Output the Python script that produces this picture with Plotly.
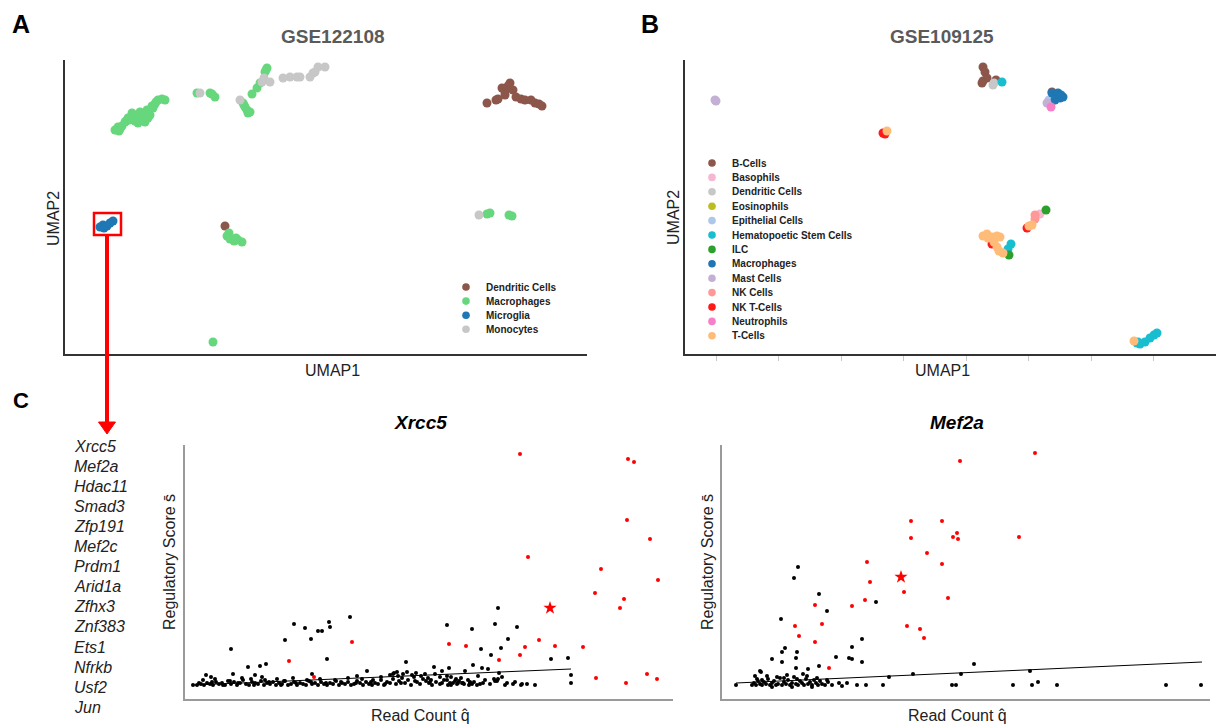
import plotly.graph_objects as go

W, H = 1216, 725
def fx(x): return x / W
def fy(y): return 1 - y / H

FONT = "Liberation Sans, Arial, sans-serif"

# ---------------- Panel A data (GSE122108), UMAP in arbitrary units ----------------
a_types = ["Dendritic Cells", "Macrophages", "Microglia", "Monocytes"]
a_colors = ["#8c564b", "#66d77d", "#1f77b4", "#c7c7c7"]
a_points = {
    "Macrophages": [(50,224),(53,227),(55,225),(57,228),(60,232),(61,233),(63,236),(66,237),(67,241),(69,235),
                    (72,239),(73,231),(75,242),(77,238),(78,234),(80,232),(82,244),(83,236),(85,239),(87,248),
                    (88,246),(90,250),(93,254),(97,255),(100,254),(70,233),(64,234),(54,223),(81,237),(91,252),
                    (132,261),(145,261),(150,257),(147,260),
                    (178,251),(180,247),(182,244),(185,242),(183,241),(179,249),
                    (187,260),(192,266),(195,271),(200,282),(202,286),(201,284),
                    (162,118),(164,121),(165,115),(169,113),(173,114),(177,112),(171,116),
                    (422,140),(425,141),(444,139),(447,138),
                    (148,12)],
    "Monocytes": [(135,261),(175,254),(197,272),(199,276),(205,272),(218,276),(225,277),(232,277),(235,277),
                  (245,277),(248,281),(250,282),(253,287),(260,287),(414,139)],
    "Dendritic Cells": [(422,251),(431,254),(437,266),(440,262),(443,268),(445,271),(448,264),(440,259),(451,257),
                        (456,255),(460,254),(466,254),(470,251),(474,250),(477,248),(433,255),(160,128)],
    "Microglia": [(35,127),(38,129),(39,126),(42,128),(45,131),(48,133)],
}

# ---------------- Panel B data (GSE109125) ----------------
b_types = ["B-Cells", "Basophils", "Dendritic Cells", "Eosinophils", "Epithelial Cells",
           "Hematopoetic Stem Cells", "ILC", "Macrophages", "Mast Cells", "NK Cells",
           "NK T-Cells", "Neutrophils", "T-Cells"]
b_colors = ["#8c564b", "#f7b6d2", "#c7c7c7", "#bcbd22", "#aec7e8", "#17becf", "#2ca02c",
            "#1f77b4", "#c5b0d5", "#ff9896", "#ff1a1a", "#f77fc8", "#ffbb78"]
b_points = {
    "B-Cells": [(298,287),(300,282),(298,273),(302,276),(311,274),(297,271),(367,262)],
    "Dendritic Cells": [(308,269),(309,271)],
    "Hematopoetic Stem Cells": [(317,272),(326,110),(323,105),(452,11),(455,10),(460,12),(465,16),(469,19),(472,21),(453,12)],
    "Macrophages": [(367,261),(371,257),(375,256),(378,257),(373,261),(370,254),(376,259)],
    "Epithelial Cells": [(364,254)],
    "Mast Cells": [(362,251),(30,254),(31,253)],
    "Eosinophils": [(366,251)],
    "Neutrophils": [(366,247)],
    "NK T-Cells": [(198,221),(200,220),(342,126),(307,110)],
    "T-Cells": [(202,223),(347,129),(344,128),(298,118),(302,120),(307,117),(312,118),(315,117),(309,112),
                (312,107),(314,103),(318,101),(303,116),(449,13)],
    "ILC": [(361,144),(324,99)],
    "Basophils": [(355,140)],
    "NK Cells": [(350,139),(350,135)],
}
b_tick0, b_dtick = 31, 62.5

# ---------------- Panel C data ----------------
genes = ["Xrcc5", "Mef2a", "Hdac11", "Smad3", "Zfp191", "Mef2c", "Prdm1", "Arid1a",
         "Zfhx3", "Znf383", "Ets1", "Nfrkb", "Usf2", "Jun"]

# Xrcc5: (read count q, regulatory score s), arbitrary units
xrcc5_black = [(21,24),(26,22),(46,50),(48,25),(63,32),(70,24),(75,33),(77,22),(81,35),(100,59),(109,75),(120,71),
               (126,60),(133,68),(137,68),(144,77),(145,72),(142,40),(165,82),(127,25),(182,28),(221,37),(212,27),
               (208,25),(172,23),(249,32),(257,28),(264,31),(280,28),(288,34),(297,31),(303,30),(250,25),(262,23),
               (266,22),(271,20),(293,23),(314,26),(309,20),(317,22),(313,20),(265,16),(272,15),(277,16),(284,14),
               (287,15),(337,15),(386,24),(386,16),(262,74),(287,70),(310,75),(313,91),(332,72),(323,60),(296,50),
               (316,51),(306,44),(366,40),(383,41),(273,16),(285,16)]
xrcc5_band = [(8,14),(12,14),(16,15),(19,14),(22,16),(25,15),(28,14),(31,17),(34,15),(37,16),(40,14),(43,18),
              (46,15),(49,17),(52,14),(55,16),(58,19),(61,15),(64,14),(67,17),(70,16),(73,15),(76,18),(79,14),
              (82,16),(85,15),(88,17),(91,14),(94,16),(97,15),(100,18),(103,14),(106,15),(109,17),(112,14),
              (115,16),(118,15),(121,14),(124,18),(127,15),(130,16),(133,14),(136,17),(139,15),(142,14),(145,16),
              (148,15),(151,18),(154,14),(157,16),(160,15),(163,17),(166,14),(169,15),(172,18),(175,16),(178,14),
              (181,17),(184,15),(187,14),(190,16),(193,15),(196,19),(199,14),(202,17),(205,16),(208,20),(211,15),
              (214,18),(217,21),(220,16),(223,19),(226,14),(229,22),(232,17),(235,15),(238,20),(241,18),(244,16),
              (247,14),(251,17),(255,15),(259,19),(263,14),(268,16),(274,18),(279,15),(285,17),(292,14),(298,16),
              (305,15),(312,18),(320,14),(328,15),(336,14),
              (18,19),(30,20),(45,18),(57,21),(66,20),(80,19),(92,20),(99,18),(108,21),(122,19),(135,20),(150,19),
              (163,21),(177,20),(188,19),(196,22),(205,24),(209,26),(213,23),(218,25),(222,27),(227,24),(231,26),
              (236,23),(240,25),(243,21),(246,19),(255,22),(262,19),(270,18),(276,21),(283,19),(289,17),(300,19),
              (310,18),(322,16),(330,17),(342,15),(350,14),
              (14,16),(27,17),(38,14),(53,16),(69,14),(84,17),(96,14),(111,16),(126,17),(141,16),(156,17),
              (171,16),(186,17),(200,15),(216,16),(230,18),(245,17),(257,16),(266,14),(278,16),(295,15)]
xrcc5_red = [(335,245),(443,240),(449,237),(442,179),(465,160),(343,142),(416,130),(473,119),(410,106),(439,100),
             (435,91),(354,59),(340,52),(370,53),(398,52),(335,44),(314,39),(411,21),(441,16),(462,25),(472,20),
             (264,55),(281,53),(104,38),(167,57),(129,22)]
xrcc5_star = [(365,91)]
xrcc5_fit_q = [9, 386]
xrcc5_fit_s = [14, 30]

mef2a_black = [(76,132),(72,121),(97,105),(154,97),(105,88),(59,80),(63,51),(75,47),(60,47),(50,40),(60,37),(74,41),
               (74,31),(86,30),(97,33),(114,42),(127,41),(130,40),(130,52),(140,60),(140,37),(167,22),(191,25),
               (117,16),(135,14),(144,14),(161,14),(230,14),(234,14),(14,14),(38,28),(33,23),(252,35),(239,25),
               (308,28),(316,17),(291,14),(310,14),(335,14),(444,14),(479,14),(39,27)]
mef2a_band = [(30,14),(32,16),(34,14),(36,18),(38,15),(40,14),(42,17),(44,15),(46,20),(48,14),(50,16),(52,18),
              (54,14),(56,15),(58,21),(60,14),(62,17),(64,15),(66,19),(68,14),(70,16),(72,22),(74,15),(76,14),
              (78,18),(80,16),(82,14),(84,20),(86,15),(88,17),(90,14),(92,19),(94,16),(96,14),(98,18),(100,15),
              (103,14),(106,17),(110,14),(35,20),(45,23),(55,22),(65,24),(75,20),(85,23),(95,21),(105,19),(50,12),
              (70,12),(90,12),(120,13),(125,16),(40,19),(62,21),(81,25)]
mef2a_red = [(238,238),(313,246),(189,178),(220,178),(189,161),(231,162),(235,166),(236,160),(297,162),(205,146),
             (145,137),(220,135),(148,117),(182,107),(143,99),(130,93),(93,94),(226,101),(73,73),(100,75),(77,63),
             (93,57),(185,73),(198,70),(202,61),(107,31)]
mef2a_star = [(179,122)]
mef2a_fit_q = [14, 480]
mef2a_fit_s = [16, 37]

# ---------------- Figure ----------------
fig = go.Figure()

def xs(p): return [a for a, b in p]
def ys(p): return [b for a, b in p]

for t, c in zip(a_types, a_colors):
    p = a_points[t]
    fig.add_trace(go.Scatter(x=xs(p), y=ys(p), mode="markers", name=t, showlegend=False,
                             marker=dict(size=9, color=c, line=dict(width=0)), xaxis="x", yaxis="y"))
for t, c in zip(b_types, b_colors):
    p = b_points.get(t, [])
    fig.add_trace(go.Scatter(x=xs(p), y=ys(p), mode="markers", name=t, showlegend=False,
                             marker=dict(size=9, color=c, line=dict(width=0)), xaxis="x2", yaxis="y2"))

for ax, black, band, red, star, fq, fs in [
        ("3", xrcc5_black, xrcc5_band, xrcc5_red, xrcc5_star, xrcc5_fit_q, xrcc5_fit_s),
        ("4", mef2a_black, mef2a_band, mef2a_red, mef2a_star, mef2a_fit_q, mef2a_fit_s)]:
    pts = black + band
    fig.add_trace(go.Scatter(x=xs(pts), y=ys(pts), mode="markers", showlegend=False,
                             marker=dict(size=4, color="black", line=dict(width=0)),
                             xaxis="x" + ax, yaxis="y" + ax))
    fig.add_trace(go.Scatter(x=fq, y=fs, mode="lines", showlegend=False,
                             line=dict(color="black", width=1), xaxis="x" + ax, yaxis="y" + ax))
    fig.add_trace(go.Scatter(x=xs(red), y=ys(red), mode="markers", showlegend=False,
                             marker=dict(size=4, color="#ff0000", line=dict(width=0)),
                             xaxis="x" + ax, yaxis="y" + ax))
    fig.add_trace(go.Scatter(x=xs(star), y=ys(star), mode="markers", showlegend=False,
                             marker=dict(size=10, color="#ff0000", symbol="star", line=dict(width=0)),
                             xaxis="x" + ax, yaxis="y" + ax))

ax_common = dict(showgrid=False, zeroline=False, showticklabels=False, showline=True, ticks="")
umap_axis = dict(ax_common, linecolor="#333333", linewidth=2)
c_axis = dict(ax_common, linecolor="#9a9a9a", linewidth=1.5)

fig.update_layout(
    width=W, height=H, margin=dict(l=0, r=0, t=0, b=0),
    paper_bgcolor="white", plot_bgcolor="white",
    font=dict(family=FONT, color="#222"),
    xaxis=dict(umap_axis, domain=[fx(65), fx(587)], range=[0, 522], anchor="y"),
    yaxis=dict(umap_axis, domain=[fy(354), fy(60)], range=[0, 294], anchor="x"),
    xaxis2=dict(umap_axis, domain=[fx(685), 1.0], range=[0, 531], anchor="y2",
                ticks="outside", ticklen=5, tickwidth=1, tickcolor="#c8c8c8",
                tickmode="linear", tick0=b_tick0, dtick=b_dtick),
    yaxis2=dict(umap_axis, domain=[fy(354), fy(60)], range=[0, 294], anchor="x2"),
    xaxis3=dict(c_axis, domain=[fx(185), fx(673)], range=[0, 488], anchor="y3"),
    yaxis3=dict(c_axis, domain=[fy(699), fy(445)], range=[0, 254], anchor="x3"),
    xaxis4=dict(c_axis, domain=[fx(722), fx(1210)], range=[0, 488], anchor="y4"),
    yaxis4=dict(c_axis, domain=[fy(699), fy(445)], range=[0, 254], anchor="x4"),
)

ann = []
def text(x, y, s, size, bold=False, italic=False, color="#222", xanchor="center", angle=0):
    if bold:
        s = "<b>" + s + "</b>"
    if italic:
        s = "<i>" + s + "</i>"
    ann.append(dict(x=fx(x), y=fy(y), xref="paper", yref="paper", text=s, showarrow=False,
                    xanchor=xanchor, yanchor="middle", textangle=angle,
                    font=dict(size=size, color=color, family=FONT)))

# Panel letters
text(21, 24, "A", 25, bold=True, color="black")
text(650, 24, "B", 25, bold=True, color="black")
text(21, 400, "C", 22, bold=True, color="black")
# Panel titles
text(333, 36, "GSE122108", 19, bold=True, color="#5a5a5a")
text(942, 36, "GSE109125", 19, bold=True, color="#5a5a5a")
# UMAP axis titles
text(53, 218, "UMAP2", 16, angle=-90)
text(332, 370, "UMAP1", 16)
text(673, 218, "UMAP2", 16, angle=-90)
text(942, 370, "UMAP1", 16)

shapes = []
def circle(cx, cy, r, color):
    shapes.append(dict(type="circle", xref="paper", yref="paper",
                       x0=fx(cx - r), x1=fx(cx + r), y0=fy(cy + r), y1=fy(cy - r),
                       fillcolor=color, line=dict(width=0)))

# Legend A
for i, (t, c) in enumerate(zip(a_types, a_colors)):
    yy = 287 + i * 14.1
    circle(466, yy, 3.8, c)
    text(484, yy, t, 10, bold=True, xanchor="left")
# Legend B
for i, (t, c) in enumerate(zip(b_types, b_colors)):
    yy = 163 + i * 14.4
    circle(712, yy, 3.8, c)
    text(730, yy, t, 10, bold=True, xanchor="left")

# Gene list
for i, g in enumerate(genes):
    text(72, 446 + i * 20.1, g, 16, italic=True, xanchor="left")

# Panel C titles and axis labels
text(420, 422, "Xrcc5", 19, bold=True, italic=True, color="black")
text(957, 422, "Mef2a", 19, bold=True, italic=True, color="black")
text(169, 562, "Regulatory Score s\u0304", 16, angle=-90)
text(707, 562, "Regulatory Score s\u0304", 16, angle=-90)
text(420, 715, "Read Count q\u0302", 16)
text(957, 715, "Read Count q\u0302", 16)

# Red highlight box + arrow
RED = "#ff0000"
shapes.append(dict(type="rect", xref="paper", yref="paper", x0=fx(94), x1=fx(121), y0=fy(235), y1=fy(213),
                   line=dict(color=RED, width=2.5)))
shapes.append(dict(type="line", xref="paper", yref="paper", x0=fx(107), x1=fx(107), y0=fy(235), y1=fy(423),
                   line=dict(color=RED, width=4)))
shapes.append(dict(type="path", xref="paper", yref="paper",
                   path=f"M {fx(98.5)},{fy(422)} L {fx(115.5)},{fy(422)} L {fx(107)},{fy(434)} Z",
                   fillcolor=RED, line=dict(color=RED, width=1)))

fig.update_layout(annotations=ann, shapes=shapes)
fig.write_html("out.html", config={"displayModeBar": False},
               post_script="document.body.style.margin='0';document.body.style.padding='0';"
                           "document.body.style.overflow='hidden';")
